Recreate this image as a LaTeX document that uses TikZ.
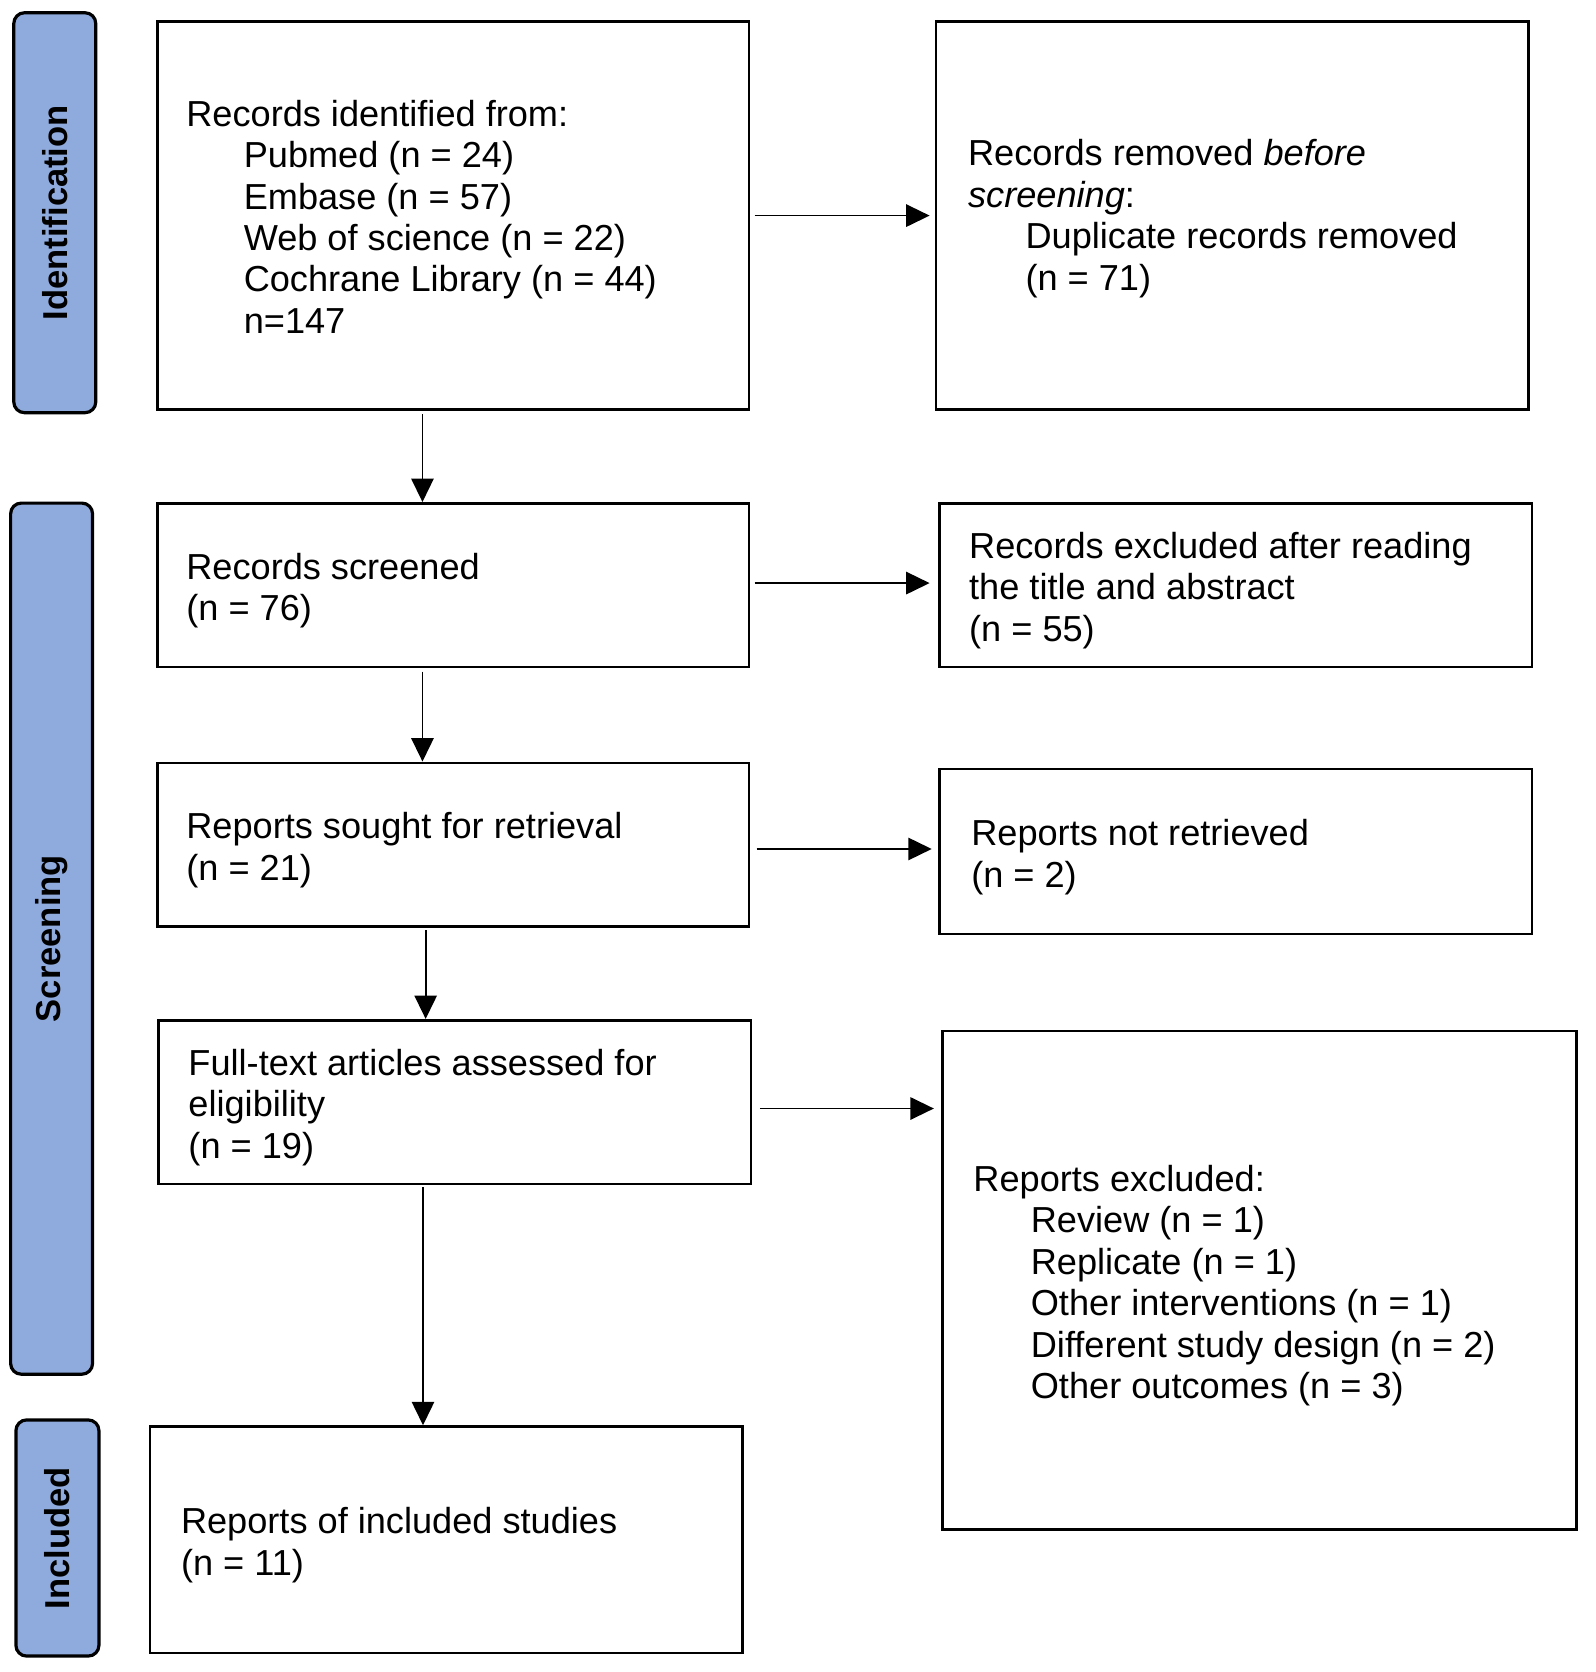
\documentclass[tikz,border=0pt]{standalone}
\usepackage{fontspec}
\setmainfont{Liberation Sans}
\usetikzlibrary{arrows.meta,calc}
\definecolor{tabblue}{RGB}{143,170,220}
\newcommand{\ind}{\hspace*{54pt}}
\begin{document}
\begin{tikzpicture}[x=1pt,y=-1pt,
  box/.style={draw=black,line width=2.4pt,inner sep=0pt,anchor=north west},
  txt/.style={anchor=west,align=left,inner sep=0pt,font=\fontsize{34}{39}\selectfont},
  tab/.style={draw=black,line width=3pt,fill=tabblue,rounded corners=10pt,rotate=90,inner sep=0pt,font=\fontsize{32.5}{39}\selectfont\bfseries},
  arr/.style={line width=1.6pt,-{Triangle[length=22pt,width=21pt]}}]
\fill[white] (0,0) rectangle (1500,1572);
\useasboundingbox (0,0) rectangle (1500,1572);

% phase tabs
\node[tab,minimum width=376pt,minimum height=77pt] (tid) at (51.5,200) {Identification};
\node[tab,minimum width=819pt,minimum height=77pt] (tsc) at (48.5,882.5) {Screening};
\node[tab,minimum width=222pt,minimum height=78pt] (tin) at (54,1446) {Included};

% boxes
\node[box,minimum width=556pt,minimum height=365pt] (b1) at (147,19) {};
\node[box,minimum width=557pt,minimum height=365pt] (b2) at (879,19) {};
\node[box,minimum width=556pt,minimum height=154pt] (b3) at (147,472) {};
\node[box,minimum width=557pt,minimum height=154pt] (b4) at (882,472) {};
\node[box,minimum width=556pt,minimum height=154pt] (b5) at (147,716) {};
\node[box,minimum width=557pt,minimum height=155pt] (b6) at (882,722) {};
\node[box,minimum width=557pt,minimum height=154pt] (b7) at (148,958) {};
\node[box,minimum width=596pt,minimum height=469pt] (b8) at (885,968) {};
\node[box,minimum width=557pt,minimum height=213pt] (b9) at (140,1340) {};

% texts
\node[txt] (x1) at ([xshift=28pt,yshift=-1pt]b1.west) {Records identified from:\\ \ind Pubmed (n = 24)\\ \ind Embase (n = 57)\\ \ind Web of science (n = 22)\\ \ind Cochrane Library (n = 44)\\ \ind n=147};
\node[txt] (x2) at ([xshift=31pt,yshift=-3pt]b2.west) {Records removed \textit{before}\\ \textit{screening}:\\ \ind Duplicate records removed\\ \ind (n = 71)};
\node[txt] (x3) at ([xshift=28pt,yshift=-5pt]b3.west) {Records screened\\(n = 76)};
\node[txt] (x4) at ([xshift=29pt,yshift=-5pt]b4.west) {Records excluded after reading\\the title and abstract\\(n = 55)};
\node[txt] (x5) at ([xshift=28pt,yshift=-5pt]b5.west) {Reports sought for retrieval\\(n = 21)};
\node[txt] (x6) at ([xshift=31pt,yshift=-5pt]b6.west) {Reports not retrieved\\(n = 2)};
\node[txt] (x7) at ([xshift=29pt,yshift=-5pt]b7.west) {Full-text articles assessed for\\eligibility\\(n = 19)};
\node[txt] (x8) at ([xshift=30pt,yshift=-5pt]b8.west) {Reports excluded:\\ \ind Review (n = 1)\\ \ind Replicate (n = 1)\\ \ind Other interventions (n = 1)\\ \ind Different study design (n = 2)\\ \ind Other outcomes (n = 3)};
\node[txt] (x9) at ([xshift=30pt,yshift=-5pt]b9.west) {Reports of included studies\\(n = 11)};

% vertical connectors
\draw[arr,shorten <=3pt] ([xshift=-29pt]b1.south) -- ([xshift=-29pt]b1.south |- b3.north);
\draw[arr,shorten <=3pt] ([xshift=-29pt]b3.south) -- ([xshift=-29pt]b3.south |- b5.north);
\draw[arr,shorten <=2pt] ([xshift=-26pt]b5.south) -- ([xshift=-26pt]b5.south |- b7.north);
\draw[arr,shorten <=2pt] ([xshift=-30pt]b7.south) -- ([xshift=-30pt]b7.south |- b9.north);

% horizontal connectors
\draw[arr,shorten <=4pt,shorten >=5pt] (b1.east) -- (b1.east -| b2.west);
\draw[arr,shorten <=4pt,shorten >=8pt] ([yshift=2pt]b3.east) -- ([yshift=2pt]b3.east -| b4.west);
\draw[arr,shorten <=6pt,shorten >=6pt] ([yshift=-4pt]b5.east) -- ([yshift=-4pt]b5.east -| b6.west);
\draw[arr,shorten <=7pt,shorten >=7pt] ([yshift=-6pt]b7.east) -- ([yshift=-6pt]b7.east -| b8.west);
\end{tikzpicture}
\end{document}
